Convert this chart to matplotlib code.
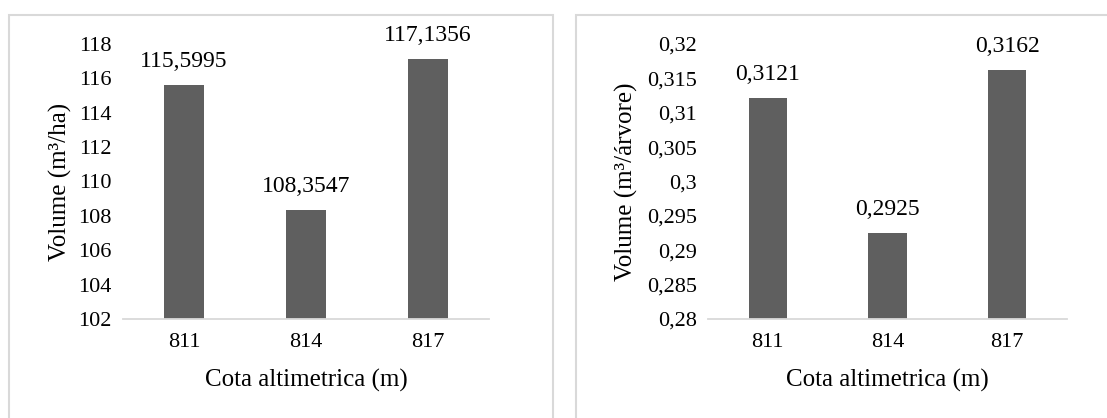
import matplotlib.pyplot as plt
from matplotlib.patches import Rectangle
from matplotlib.ticker import FuncFormatter

# data
cotas = ["811", "814", "817"]
vol_ha = [115.5995, 108.3547, 117.1356]
vol_arvore = [0.3121, 0.2925, 0.3162]
lbl_ha = ["115,5995", "108,3547", "117,1356"]
lbl_arvore = ["0,3121", "0,2925", "0,3162"]

plt.rcParams['font.family'] = ['Liberation Serif', 'DejaVu Serif']

W, H = 1107, 418
fig = plt.figure(figsize=(W / 100, H / 100), dpi=100)

BAR = "#5f5f5f"
GRID = "#d9d9d9"


def px_axes(x0, y0, x1, y1):
    # axes rectangle given in pixel coordinates (top-left origin)
    return fig.add_axes([x0 / W, (H - y1) / H, (x1 - x0) / W, (y1 - y0) / H])


def comma(v, pos):
    return ("%g" % round(v, 4)).replace(".", ",")


def draw(ax, values, labels, ylim, step, ylabel, ylab_x):
    pos = range(len(cotas))
    ax.bar(pos, values, width=0.32, color=BAR, zorder=2)
    ax.set_xlim(-0.5, len(cotas) - 0.5)
    ax.set_ylim(*ylim)
    n = int(round((ylim[1] - ylim[0]) / step))
    ax.set_yticks([ylim[0] + i * step for i in range(n + 1)])
    ax.yaxis.set_major_formatter(FuncFormatter(comma))
    ax.set_xticks(list(pos))
    ax.set_xticklabels(cotas)
    for s in ["top", "right", "left"]:
        ax.spines[s].set_visible(False)
    ax.spines["bottom"].set_color(GRID)
    ax.spines["bottom"].set_linewidth(1.3)
    ax.tick_params(axis="both", length=0, labelsize=16, colors="black")
    ax.tick_params(axis="y", pad=8)
    ax.tick_params(axis="x", pad=10)
    for p, v, t in zip(pos, values, labels):
        ax.annotate(t, (p, v), xytext=(0, 17), textcoords="offset points",
                    ha="center", va="center", fontsize=17)
    ax.set_xlabel("Cota altimetrica (m)", fontsize=18)
    ax.xaxis.label.set_va("center")
    ax.xaxis.set_label_coords(0.5, -0.222)
    ax.set_ylabel(ylabel, fontsize=18)
    ax.yaxis.label.set_va("center")
    ax.yaxis.set_label_coords(ylab_x, 0.5)


# panel borders
fig.patches.append(Rectangle((9 / W, -0.1), (553 - 9) / W, (H - 15) / H + 0.1,
                             transform=fig.transFigure, fill=False,
                             edgecolor=GRID, linewidth=1.5))
fig.patches.append(Rectangle((576 / W, -0.1), (1120 - 576) / W, (H - 15) / H + 0.1,
                             transform=fig.transFigure, fill=False,
                             edgecolor=GRID, linewidth=1.5))

ax1 = px_axes(123, 44, 489, 319)
draw(ax1, vol_ha, lbl_ha, (102, 118), 2, "Volume (m³/ha)", -0.172)

ax2 = px_axes(708, 44, 1067, 319)
draw(ax2, vol_arvore, lbl_arvore, (0.28, 0.32), 0.005, "Volume (m³/árvore)", -0.226)

fig.savefig("out.png", dpi=100)
